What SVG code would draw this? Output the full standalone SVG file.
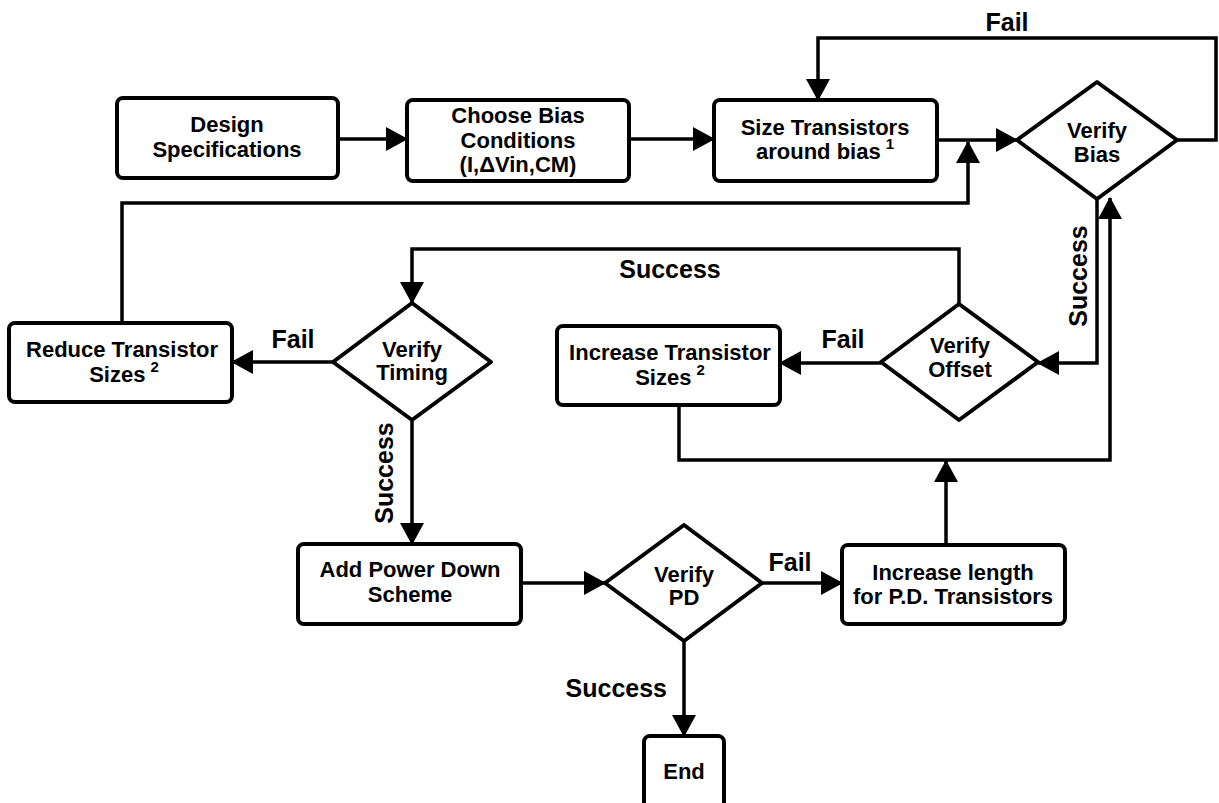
<svg xmlns="http://www.w3.org/2000/svg" width="1219" height="803" viewBox="0 0 1219 803">
<style>
.box{fill:#fff;stroke:#000;stroke-width:4;stroke-linejoin:round}
.t{font-family:"Liberation Sans",Arial,sans-serif;font-weight:bold;font-size:22px;text-anchor:middle;fill:#000}
.lbl{font-family:"Liberation Sans",Arial,sans-serif;font-weight:bold;font-size:25px;fill:#000}
.sup{font-size:15px}
.c{fill:none;stroke:#000;stroke-width:3.5;stroke-linejoin:miter}
</style>
<defs>
<marker id="ah" viewBox="0 0 22 24" refX="21" refY="12" markerWidth="22" markerHeight="24" orient="auto" markerUnits="userSpaceOnUse">
<path d="M0,0 L22,12 L0,24 Z" fill="#000"/>
</marker>
</defs>
<rect width="1219" height="803" fill="#fff"/>
<g id="connectors">
<path class="c" d="M338,139 H407" marker-end="url(#ah)"/>
<path class="c" d="M629,139 H714" marker-end="url(#ah)"/>
<path class="c" d="M937,140 H1017" marker-end="url(#ah)"/>
<path class="c" d="M1177,140 H1216 V38 H818 V100" marker-end="url(#ah)"/>
<path class="c" d="M122,323 V203 H968 V142" marker-end="url(#ah)"/>
<path class="c" d="M1097,199 V363 H1038" marker-end="url(#ah)"/>
<path class="c" d="M333,362 H232" marker-end="url(#ah)"/>
<path class="c" d="M959,304 V249 H412 V303" marker-end="url(#ah)"/>
<path class="c" d="M881,363 H780" marker-end="url(#ah)"/>
<path class="c" d="M679,405 V460 H1110 V198" marker-end="url(#ah)"/>
<path class="c" d="M412,420 V544" marker-end="url(#ah)"/>
<path class="c" d="M521,583 H605" marker-end="url(#ah)"/>
<path class="c" d="M762,583 H842" marker-end="url(#ah)"/>
<path class="c" d="M946,545 V461" marker-end="url(#ah)"/>
<path class="c" d="M684,641 V736" marker-end="url(#ah)"/>
<text class="lbl" x="1007" y="31" text-anchor="middle">Fail</text>
<text class="lbl" x="293" y="348" text-anchor="middle">Fail</text>
<text class="lbl" x="843" y="348" text-anchor="middle">Fail</text>
<text class="lbl" x="790" y="571" text-anchor="middle">Fail</text>
<text class="lbl" x="670" y="278" text-anchor="middle" font-size="26">Success</text>
<text class="lbl" x="667" y="697" text-anchor="end" font-size="26">Success</text>
<text class="lbl" text-anchor="middle" font-size="26" transform="translate(1087,276) rotate(-90)">Success</text>
<text class="lbl" text-anchor="middle" font-size="26" transform="translate(393,473) rotate(-90)">Success</text>
</g>
<g id="design">
<rect class="box" x="117" y="98" width="221" height="80" rx="6"/>
<text class="t" x="227" y="132">Design</text>
<text class="t" x="227" y="157">Specifications</text>
</g>
<g id="choose">
<rect class="box" x="407" y="100" width="222" height="81" rx="6"/>
<text class="t" x="518" y="123">Choose Bias</text>
<text class="t" x="518" y="148">Conditions</text>
<text class="t" x="518" y="172">(I,ΔVin,CM)</text>
</g>
<g id="size">
<rect class="box" x="714" y="100" width="223" height="81" rx="6"/>
<text class="t" x="825" y="135">Size Transistors</text>
<text class="t" x="825" y="159">around bias<tspan class="sup" dx="5" dy="-10">1</tspan></text>
</g>
<g id="verifyBias">
<polygon class="box" points="1097,82 1177,140 1097,199 1017,140"/>
<text class="t" x="1097" y="138">Verify</text>
<text class="t" x="1097" y="162">Bias</text>
</g>
<g id="reduce">
<rect class="box" x="9" y="323" width="223" height="79" rx="6"/>
<text class="t" x="122" y="357">Reduce Transistor</text>
<text class="t" x="124" y="382">Sizes<tspan class="sup" dx="5" dy="-10">2</tspan></text>
</g>
<g id="verifyTiming">
<polygon class="box" points="412,303 491,362 412,420 333,362"/>
<text class="t" x="412" y="357">Verify</text>
<text class="t" x="412" y="380">Timing</text>
</g>
<g id="increaseSizes">
<rect class="box" x="557" y="326" width="223" height="79" rx="6"/>
<text class="t" x="670" y="360">Increase Transistor</text>
<text class="t" x="670" y="385">Sizes<tspan class="sup" dx="5" dy="-10">2</tspan></text>
</g>
<g id="verifyOffset">
<polygon class="box" points="959,304 1038,362 959,420 881,362"/>
<text class="t" x="960" y="353">Verify</text>
<text class="t" x="960" y="377">Offset</text>
</g>
<g id="addPower">
<rect class="box" x="298" y="544" width="223" height="80" rx="6"/>
<text class="t" x="410" y="577">Add Power Down</text>
<text class="t" x="410" y="602">Scheme</text>
</g>
<g id="verifyPD">
<polygon class="box" points="684,525 762,583 684,641 605,583"/>
<text class="t" x="684" y="582">Verify</text>
<text class="t" x="684" y="605">PD</text>
</g>
<g id="increaseLength">
<rect class="box" x="842" y="545" width="223" height="79" rx="6"/>
<text class="t" x="953" y="580">Increase length</text>
<text class="t" x="953" y="604">for P.D. Transistors</text>
</g>
<g id="end">
<rect class="box" x="644" y="736" width="80" height="90" rx="6"/>
<text class="t" x="684" y="779">End</text>
</g>
</svg>
